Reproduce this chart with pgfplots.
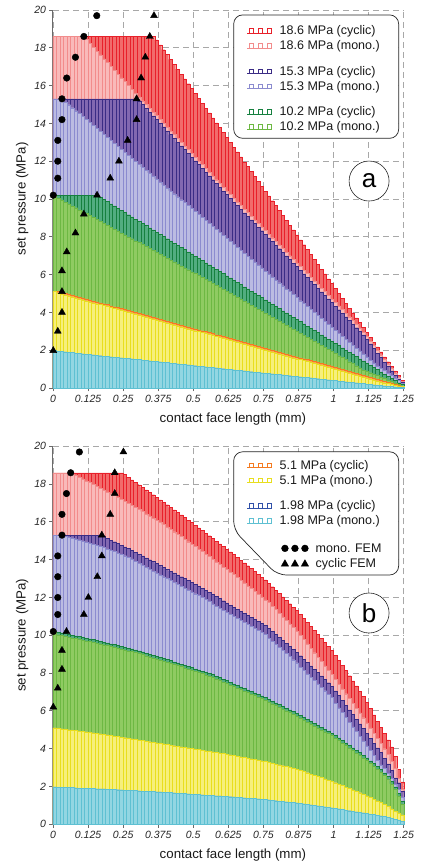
\documentclass[border=0pt]{standalone}
\usepackage{pgfplots}
\pgfplotsset{compat=1.18}
\usepackage{pgfplotstable}
\usepackage{fontspec}
\setmainfont{Liberation Sans}

\definecolor{redc}{HTML}{E8202A}\definecolor{redf}{HTML}{F26B6B}
\definecolor{pinkc}{HTML}{F28C8C}\definecolor{pinkf}{HTML}{F9BABA}
\definecolor{purc}{HTML}{3B2C85}\definecolor{purf}{HTML}{8268B1}
\definecolor{lavc}{HTML}{8B8BCF}\definecolor{lavf}{HTML}{BBBBE2}
\definecolor{grnc}{HTML}{16803F}\definecolor{grnf}{HTML}{52AD80}
\definecolor{lgrc}{HTML}{6DB843}\definecolor{lgrf}{HTML}{8FCB62}
\definecolor{orac}{HTML}{F47A20}\definecolor{oraf}{HTML}{F9A550}
\definecolor{yelc}{HTML}{E8DE1E}\definecolor{yelf}{HTML}{F6EF7C}
\definecolor{bluc}{HTML}{3050A8}\definecolor{bluf}{HTML}{6A86C8}
\definecolor{cyac}{HTML}{5EC0D2}\definecolor{cyaf}{HTML}{92D6E2}
\definecolor{axgray}{HTML}{6A6A6A}
\definecolor{gridgray}{HTML}{A8A8A8}

% ---- panel (a): set pressure per bar, 100 bars of 0.0125 mm ----
\pgfplotstableread[row sep=\\,header=false]{
18.60\\18.60\\18.60\\18.60\\18.60\\18.60\\18.60\\18.60\\18.60\\18.60\\
18.60\\18.60\\18.60\\18.60\\18.60\\18.60\\18.60\\18.60\\18.60\\18.60\\
18.60\\18.60\\18.60\\18.60\\18.60\\18.60\\18.60\\18.60\\18.60\\
18.42\\18.16\\17.90\\17.65\\17.39\\17.13\\16.87\\16.61\\16.36\\16.10\\
15.84\\15.58\\15.32\\15.07\\14.81\\14.55\\14.29\\14.03\\13.78\\13.52\\
13.26\\13.00\\12.74\\12.49\\12.23\\11.97\\11.71\\11.45\\11.20\\10.94\\
10.68\\10.42\\10.16\\9.91\\9.65\\9.39\\9.13\\8.87\\8.62\\8.36\\
8.10\\7.84\\7.58\\7.33\\7.07\\6.81\\6.55\\6.29\\6.04\\5.78\\
5.52\\5.26\\5.00\\4.75\\4.49\\4.23\\3.97\\3.71\\3.46\\3.20\\
2.94\\2.68\\2.42\\2.17\\1.91\\1.65\\1.39\\1.14\\0.90\\0.66\\
0.42\\
}\aRc
\pgfplotstableread[row sep=\\,header=false]{
18.60\\18.60\\18.60\\18.60\\18.60\\18.60\\18.60\\18.60\\18.60\\
18.43\\18.23\\18.03\\17.82\\17.62\\17.42\\17.22\\17.02\\16.81\\16.61\\
16.41\\16.21\\16.01\\15.80\\15.60\\
15.40\\15.20\\15.00\\14.80\\14.60\\14.41\\14.21\\14.01\\13.81\\13.61\\
13.41\\13.21\\13.01\\12.81\\12.61\\12.42\\12.22\\12.02\\11.82\\11.62\\
11.42\\11.22\\11.02\\10.82\\10.62\\10.43\\10.23\\
10.04\\9.85\\9.66\\9.47\\9.28\\9.09\\8.90\\8.71\\8.52\\8.33\\
8.14\\7.95\\7.76\\7.57\\7.38\\7.19\\7.00\\6.81\\6.62\\6.43\\
6.24\\6.05\\5.86\\5.67\\5.48\\5.29\\5.10\\4.91\\4.72\\4.53\\
4.34\\4.15\\3.96\\3.77\\3.58\\3.39\\3.18\\
2.96\\2.72\\2.48\\2.24\\2.00\\1.76\\1.52\\1.28\\1.04\\0.80\\0.58\\0.36\\
}\aRm
\pgfplotstableread[row sep=\\,header=false]{
15.30\\15.30\\15.30\\15.30\\15.30\\15.30\\15.30\\15.30\\15.30\\15.30\\
15.30\\15.30\\15.30\\15.30\\15.30\\15.30\\15.30\\15.30\\15.30\\15.30\\
15.30\\15.30\\15.30\\15.30\\
15.20\\15.00\\14.80\\14.60\\14.40\\14.21\\14.01\\13.81\\13.61\\13.41\\
13.21\\13.01\\12.81\\12.61\\12.41\\12.22\\12.02\\11.82\\11.62\\11.42\\
11.22\\11.02\\10.82\\10.62\\10.42\\10.23\\10.03\\
9.84\\9.65\\9.46\\9.27\\9.08\\8.89\\8.70\\8.51\\8.32\\8.13\\
7.94\\7.75\\7.56\\7.37\\7.18\\6.99\\6.80\\6.61\\6.42\\6.23\\
6.04\\5.85\\5.66\\5.47\\5.28\\5.09\\4.90\\4.71\\4.52\\4.33\\
4.14\\3.95\\3.76\\3.57\\3.38\\3.19\\3.00\\2.81\\
2.57\\2.33\\2.09\\1.85\\1.61\\1.37\\1.13\\0.90\\0.68\\0.48\\0.30\\
}\aPc
\pgfplotstableread[row sep=\\,header=false]{
15.30\\15.30\\15.30\\
15.14\\14.99\\14.83\\14.67\\14.52\\14.36\\14.20\\14.04\\13.89\\13.73\\
13.57\\13.42\\13.26\\13.10\\12.95\\12.79\\12.63\\12.47\\12.32\\12.16\\
12.00\\11.85\\11.69\\11.53\\11.38\\11.22\\11.06\\10.90\\10.75\\10.59\\
10.43\\10.28\\10.12\\9.96\\9.81\\9.65\\9.49\\9.33\\9.18\\9.02\\
8.86\\8.71\\8.55\\8.39\\8.24\\8.08\\7.92\\7.76\\7.61\\7.45\\
7.29\\7.14\\6.98\\6.82\\6.67\\6.51\\6.35\\6.19\\6.04\\5.88\\
5.72\\5.57\\5.41\\5.25\\5.10\\4.94\\4.78\\4.62\\4.47\\4.31\\
4.15\\4.00\\3.84\\3.68\\3.53\\3.37\\3.21\\3.05\\2.90\\2.74\\
2.58\\2.43\\2.27\\2.11\\1.96\\1.80\\1.64\\1.48\\1.33\\1.17\\
1.05\\0.92\\0.79\\0.66\\0.53\\0.40\\0.24\\
}\aPm
\pgfplotstableread[row sep=\\,header=false]{
10.20\\10.20\\10.20\\10.20\\10.20\\10.20\\10.20\\10.20\\10.20\\10.20\\
10.20\\10.20\\10.20\\
10.09\\9.97\\9.86\\9.74\\9.63\\9.51\\9.40\\9.28\\9.17\\9.05\\
8.94\\8.82\\8.70\\8.59\\8.47\\8.36\\8.24\\8.13\\8.01\\7.90\\
7.78\\7.66\\7.55\\7.43\\7.32\\7.20\\7.09\\6.97\\6.86\\6.74\\
6.62\\6.51\\6.39\\6.28\\6.16\\6.05\\5.93\\5.82\\5.70\\5.59\\
5.47\\5.35\\5.24\\5.12\\5.01\\4.89\\4.78\\4.66\\4.55\\4.43\\
4.31\\4.20\\4.08\\3.97\\3.85\\3.74\\3.62\\3.51\\3.39\\3.28\\
3.16\\3.04\\2.93\\2.81\\2.70\\2.58\\2.47\\2.35\\2.24\\2.12\\
2.00\\1.89\\1.77\\1.66\\1.54\\1.43\\1.31\\1.20\\1.08\\0.97\\
0.85\\0.73\\0.62\\0.50\\0.39\\0.28\\0.18\\
}\aGc
\pgfplotstableread[row sep=\\,header=false]{
10.20\\10.05\\9.95\\9.84\\9.74\\9.64\\9.54\\9.43\\9.33\\9.23\\
9.13\\9.02\\8.92\\8.82\\8.72\\8.61\\8.51\\8.41\\8.31\\8.20\\
8.10\\8.00\\7.90\\7.79\\7.69\\7.59\\7.49\\7.38\\7.28\\7.18\\
7.08\\6.97\\6.87\\6.77\\6.67\\6.56\\6.46\\6.36\\6.26\\6.15\\
6.05\\5.95\\5.85\\5.74\\5.64\\5.54\\5.44\\5.33\\5.23\\5.13\\
5.03\\4.92\\4.82\\4.71\\4.60\\4.50\\4.39\\4.28\\4.17\\4.07\\
3.96\\3.85\\3.75\\3.64\\3.53\\3.43\\3.32\\3.21\\3.10\\3.00\\
2.89\\2.78\\2.68\\2.57\\2.46\\2.36\\2.25\\2.14\\2.04\\1.93\\
1.82\\1.71\\1.61\\1.50\\1.39\\1.29\\1.18\\1.07\\0.96\\0.88\\
0.81\\0.73\\0.66\\0.58\\0.50\\0.43\\0.35\\0.27\\0.20\\0.12\\
}\aGm
\pgfplotstableread[row sep=\\,header=false]{
5.10\\5.10\\5.07\\5.02\\4.97\\4.92\\4.86\\4.81\\4.76\\4.71\\
4.66\\4.61\\4.56\\4.51\\4.46\\4.41\\4.35\\4.30\\4.25\\4.20\\
4.15\\4.10\\4.05\\4.00\\3.95\\3.90\\3.84\\3.79\\3.74\\3.69\\
3.64\\3.59\\3.54\\3.49\\3.44\\3.39\\3.33\\3.28\\3.23\\3.18\\
3.13\\3.08\\3.03\\2.98\\2.93\\2.88\\2.82\\2.77\\2.72\\2.67\\
2.62\\2.57\\2.52\\2.47\\2.42\\2.37\\2.31\\2.26\\2.21\\2.16\\
2.11\\2.06\\2.01\\1.96\\1.91\\1.86\\1.80\\1.75\\1.70\\1.65\\
1.60\\1.55\\1.50\\1.45\\1.40\\1.35\\1.29\\1.24\\1.19\\1.14\\
1.09\\1.04\\0.99\\0.94\\0.89\\0.84\\0.77\\0.72\\0.66\\0.61\\
0.56\\0.50\\0.45\\0.40\\0.34\\0.29\\0.23\\0.19\\0.14\\0.10\\
}\aOc
\pgfplotstableread[row sep=\\,header=false]{
5.10\\5.02\\4.97\\4.92\\4.87\\4.82\\4.76\\4.71\\4.66\\4.61\\
4.56\\4.51\\4.46\\4.41\\4.36\\4.31\\4.25\\4.20\\4.15\\4.10\\
4.05\\4.00\\3.95\\3.90\\3.85\\3.80\\3.74\\3.69\\3.64\\3.59\\
3.54\\3.49\\3.44\\3.39\\3.34\\3.29\\3.23\\3.18\\3.13\\3.08\\
3.03\\2.98\\2.93\\2.88\\2.83\\2.78\\2.72\\2.67\\2.62\\2.57\\
2.52\\2.47\\2.42\\2.37\\2.32\\2.27\\2.21\\2.16\\2.11\\2.06\\
2.01\\1.96\\1.91\\1.86\\1.81\\1.76\\1.70\\1.65\\1.60\\1.55\\
1.50\\1.45\\1.40\\1.35\\1.30\\1.25\\1.19\\1.14\\1.09\\1.04\\
0.99\\0.94\\0.89\\0.84\\0.79\\0.74\\0.68\\0.63\\0.58\\0.53\\
0.48\\0.43\\0.38\\0.33\\0.28\\0.23\\0.18\\0.14\\0.10\\0.07\\
}\aYm
\pgfplotstableread[row sep=\\,header=false]{
1.98\\1.95\\1.93\\1.91\\1.89\\1.87\\1.85\\1.83\\1.81\\1.79\\
1.77\\1.75\\1.73\\1.71\\1.69\\1.67\\1.65\\1.63\\1.61\\1.59\\
1.58\\1.56\\1.54\\1.52\\1.50\\1.48\\1.46\\1.44\\1.42\\1.40\\
1.38\\1.36\\1.34\\1.32\\1.30\\1.28\\1.26\\1.24\\1.22\\1.20\\
1.18\\1.16\\1.14\\1.12\\1.10\\1.08\\1.06\\1.04\\1.02\\1.00\\
0.98\\0.96\\0.94\\0.92\\0.90\\0.88\\0.86\\0.84\\0.82\\0.80\\
0.78\\0.77\\0.75\\0.73\\0.71\\0.69\\0.67\\0.65\\0.63\\0.61\\
0.59\\0.57\\0.55\\0.53\\0.51\\0.49\\0.47\\0.45\\0.43\\0.41\\
0.39\\0.37\\0.35\\0.33\\0.31\\0.29\\0.27\\0.25\\0.23\\0.21\\
0.19\\0.17\\0.15\\0.13\\0.11\\0.09\\0.07\\0.06\\0.05\\0.04\\
}\aCm

% ---- panel (b) ----
\pgfplotstableread[row sep=\\,header=false]{
18.60\\18.60\\18.60\\18.60\\18.60\\18.60\\18.60\\18.60\\18.60\\18.60\\
18.60\\18.60\\18.60\\18.60\\18.60\\18.60\\18.60\\18.60\\18.60\\18.60\\
18.50\\18.35\\18.22\\18.09\\17.96\\17.83\\17.70\\17.57\\17.44\\17.31\\
17.17\\17.04\\16.91\\16.77\\16.64\\16.50\\16.37\\16.23\\16.09\\15.96\\
15.82\\15.69\\15.55\\15.41\\15.27\\15.12\\14.98\\14.84\\14.70\\14.56\\
14.42\\14.28\\14.13\\13.98\\13.83\\13.68\\13.53\\13.38\\13.23\\13.08\\
12.93\\12.75\\12.57\\12.39\\12.21\\12.03\\11.85\\11.67\\11.49\\11.31\\
11.10\\10.89\\10.68\\10.47\\10.26\\10.05\\9.84\\9.63\\9.42\\9.21\\
8.94\\8.67\\8.40\\8.13\\7.86\\7.59\\7.32\\7.05\\6.78\\6.45\\
6.12\\5.79\\5.46\\5.13\\4.80\\4.47\\4.10\\3.60\\2.90\\2.25\\
}\bRc
\pgfplotstableread[row sep=\\,header=false]{
18.60\\18.60\\18.60\\18.60\\18.60\\18.55\\18.46\\18.36\\18.27\\18.17\\
18.08\\17.98\\17.89\\17.79\\17.69\\17.59\\17.49\\17.39\\17.29\\17.19\\
17.09\\16.99\\16.89\\16.78\\16.66\\16.55\\16.43\\16.32\\16.20\\16.09\\
15.97\\15.86\\15.74\\15.61\\15.48\\15.35\\15.22\\15.09\\14.95\\14.82\\
14.69\\14.56\\14.43\\14.29\\14.16\\14.02\\13.89\\13.75\\13.61\\13.48\\
13.34\\13.21\\13.06\\12.91\\12.77\\12.62\\12.47\\12.32\\12.18\\12.03\\
11.88\\11.73\\11.54\\11.36\\11.17\\10.98\\10.79\\10.61\\10.42\\10.23\\
10.00\\9.77\\9.54\\9.31\\9.08\\8.85\\8.61\\8.38\\8.15\\7.92\\
7.67\\7.41\\7.16\\6.91\\6.65\\6.40\\6.15\\5.89\\5.64\\5.37\\
5.10\\4.83\\4.56\\4.29\\4.00\\3.70\\3.35\\2.95\\2.45\\1.85\\
}\bRm
\pgfplotstableread[row sep=\\,header=false]{
15.30\\15.30\\15.30\\15.30\\15.30\\15.30\\15.30\\15.30\\15.30\\15.30\\
15.30\\15.30\\15.30\\15.30\\15.22\\15.13\\15.04\\14.95\\14.86\\14.77\\
14.68\\14.59\\14.50\\14.40\\14.30\\14.20\\14.10\\14.00\\13.90\\13.80\\
13.70\\13.60\\13.50\\13.40\\13.30\\13.20\\13.10\\13.00\\12.90\\12.80\\
12.70\\12.60\\12.50\\12.39\\12.28\\12.16\\12.05\\11.94\\11.83\\11.71\\
11.60\\11.49\\11.38\\11.28\\11.17\\11.07\\10.96\\10.86\\10.75\\10.65\\
10.54\\10.38\\10.22\\10.06\\9.90\\9.74\\9.58\\9.42\\9.26\\9.10\\
8.92\\8.74\\8.56\\8.38\\8.20\\8.03\\7.85\\7.67\\7.49\\7.31\\
7.06\\6.81\\6.56\\6.31\\6.06\\5.81\\5.56\\5.31\\5.06\\4.80\\
4.55\\4.30\\4.05\\3.80\\3.50\\3.20\\2.85\\2.45\\2.20\\1.75\\
}\bPc
\pgfplotstableread[row sep=\\,header=false]{
15.30\\15.30\\15.30\\15.25\\15.20\\15.15\\15.10\\15.05\\15.00\\14.94\\
14.88\\14.82\\14.76\\14.70\\14.64\\14.57\\14.50\\14.43\\14.36\\14.29\\
14.21\\14.13\\14.05\\13.90\\13.80\\13.70\\13.60\\13.50\\13.40\\13.30\\
13.20\\13.10\\13.00\\12.90\\12.80\\12.70\\12.60\\12.50\\12.40\\12.30\\
12.20\\12.10\\12.00\\11.89\\11.78\\11.66\\11.55\\11.44\\11.33\\11.21\\
11.10\\10.99\\10.88\\10.78\\10.67\\10.57\\10.46\\10.36\\10.25\\10.15\\
10.04\\9.83\\9.67\\9.51\\9.35\\9.19\\9.03\\8.87\\8.71\\8.55\\
8.32\\8.14\\7.96\\7.78\\7.60\\7.43\\7.25\\7.07\\6.89\\6.71\\
6.41\\6.16\\5.91\\5.66\\5.41\\5.16\\4.91\\4.66\\4.41\\4.15\\
3.90\\3.65\\3.40\\3.15\\2.95\\2.70\\2.42\\2.12\\1.85\\1.45\\
}\bPm
\pgfplotstableread[row sep=\\,header=false]{
10.20\\10.17\\10.13\\10.09\\10.05\\10.01\\9.97\\9.93\\9.89\\9.85\\
9.81\\9.77\\9.73\\9.69\\9.64\\9.60\\9.55\\9.51\\9.46\\9.41\\
9.37\\9.32\\9.28\\9.23\\9.17\\9.12\\9.06\\9.00\\8.95\\8.89\\
8.84\\8.78\\8.72\\8.66\\8.60\\8.54\\8.48\\8.42\\8.35\\8.29\\
8.23\\8.17\\8.11\\8.04\\7.98\\7.92\\7.84\\7.76\\7.68\\7.60\\
7.51\\7.43\\7.35\\7.27\\7.19\\7.11\\7.03\\6.95\\6.87\\6.79\\
6.71\\6.62\\6.52\\6.43\\6.33\\6.24\\6.15\\6.05\\5.96\\5.86\\
5.76\\5.66\\5.55\\5.45\\5.35\\5.24\\5.14\\5.04\\4.94\\4.83\\
4.70\\4.57\\4.44\\4.31\\4.18\\4.05\\3.92\\3.79\\3.66\\3.51\\
3.36\\3.21\\3.06\\2.91\\2.72\\2.52\\2.28\\1.98\\1.65\\1.20\\
}\bGc
\pgfplotstableread[row sep=\\,header=false]{
10.20\\10.03\\9.99\\9.95\\9.91\\9.87\\9.83\\9.79\\9.75\\9.71\\
9.67\\9.63\\9.59\\9.55\\9.50\\9.46\\9.41\\9.37\\9.32\\9.27\\
9.23\\9.18\\9.14\\9.09\\9.03\\8.98\\8.92\\8.86\\8.81\\8.75\\
8.70\\8.64\\8.58\\8.52\\8.46\\8.40\\8.34\\8.28\\8.21\\8.15\\
8.09\\8.03\\7.97\\7.90\\7.84\\7.78\\7.70\\7.62\\7.54\\7.46\\
7.37\\7.29\\7.21\\7.13\\7.05\\6.97\\6.89\\6.81\\6.73\\6.65\\
6.57\\6.48\\6.38\\6.29\\6.19\\6.10\\6.01\\5.91\\5.82\\5.72\\
5.62\\5.52\\5.41\\5.31\\5.21\\5.10\\5.00\\4.90\\4.80\\4.69\\
4.56\\4.43\\4.30\\4.17\\4.04\\3.91\\3.78\\3.65\\3.52\\3.37\\
3.22\\3.07\\2.92\\2.77\\2.58\\2.38\\2.14\\1.84\\1.51\\1.06\\
}\bGm
\pgfplotstableread[row sep=\\,header=false]{
5.10\\5.07\\5.05\\5.03\\5.00\\4.98\\4.96\\4.93\\4.91\\4.89\\
4.86\\4.84\\4.81\\4.79\\4.76\\4.73\\4.70\\4.67\\4.64\\4.61\\
4.58\\4.55\\4.52\\4.49\\4.46\\4.43\\4.40\\4.37\\4.34\\4.31\\
4.28\\4.25\\4.22\\4.19\\4.16\\4.13\\4.10\\4.07\\4.04\\4.01\\
3.98\\3.95\\3.92\\3.89\\3.86\\3.83\\3.80\\3.77\\3.74\\3.71\\
3.67\\3.64\\3.60\\3.57\\3.53\\3.50\\3.46\\3.43\\3.39\\3.36\\
3.32\\3.28\\3.23\\3.19\\3.14\\3.10\\3.05\\3.01\\2.96\\2.92\\
2.86\\2.79\\2.73\\2.66\\2.60\\2.53\\2.47\\2.40\\2.34\\2.27\\
2.20\\2.12\\2.05\\1.97\\1.90\\1.82\\1.75\\1.67\\1.60\\1.51\\
1.42\\1.33\\1.24\\1.15\\1.05\\0.94\\0.82\\0.70\\0.60\\0.50\\
}\bYm
\pgfplotstableread[row sep=\\,header=false]{
1.98\\1.97\\1.96\\1.96\\1.95\\1.94\\1.93\\1.92\\1.92\\1.91\\
1.90\\1.89\\1.88\\1.88\\1.87\\1.86\\1.85\\1.84\\1.83\\1.82\\
1.81\\1.80\\1.79\\1.78\\1.77\\1.76\\1.75\\1.74\\1.73\\1.72\\
1.71\\1.70\\1.69\\1.68\\1.66\\1.65\\1.64\\1.63\\1.61\\1.60\\
1.59\\1.58\\1.56\\1.55\\1.54\\1.53\\1.51\\1.50\\1.49\\1.48\\
1.46\\1.45\\1.43\\1.42\\1.40\\1.39\\1.37\\1.36\\1.34\\1.33\\
1.31\\1.29\\1.27\\1.25\\1.23\\1.21\\1.19\\1.17\\1.15\\1.13\\
1.10\\1.08\\1.05\\1.03\\1.00\\0.97\\0.95\\0.92\\0.90\\0.87\\
0.84\\0.81\\0.78\\0.75\\0.72\\0.69\\0.66\\0.63\\0.60\\0.57\\
0.54\\0.51\\0.48\\0.45\\0.41\\0.37\\0.32\\0.27\\0.22\\0.17\\
}\bCm

\pgfplotsset{
  panel/.style={
    scale only axis, width=350.7pt, height=378pt,
    xmin=0, xmax=1.25, ymin=0, ymax=20,
    axis x line*=bottom, axis y line*=left,
    axis line style={-, draw=axgray, line width=1pt},
    xtick={0,0.125,0.25,0.375,0.5,0.625,0.75,0.875,1,1.125,1.25},
    xticklabels={0,0.125,0.25,0.375,0.5,0.625,0.75,0.875,1,1.125,1.25},
    ytick={0,2,4,6,8,10,12,14,16,18,20},
    yticklabels={0,2,4,6,8,10,12,14,16,18,20},
    xticklabel style={font=\fontsize{10.5}{12}\selectfont\itshape, text=black!85},
    yticklabel style={font=\fontsize{10.5}{12}\selectfont\itshape, text=black!85},
    tick style={draw=axgray, line width=0.9pt},
    tick align=outside, major tick length=3.5pt,
    grid=major,
    major grid style={draw=gridgray, line width=0.9pt, dash pattern=on 6pt off 4pt},
    xlabel={contact face length (mm)},
    ylabel={set pressure (MPa)},
    every axis y label/.style={at={(axis description cs:-0.088,0.5)}, rotate=90, anchor=center,
      font=\fontsize{13.3}{15}\selectfont, text=black!90},
    every axis x label/.style={at={(axis description cs:0.513,-0.082)}, anchor=center,
      font=\fontsize{13.3}{15}\selectfont, text=black!90},
    clip=false,
    legend cell align=left,
    legend style={draw=none, fill=none, inner sep=0pt, column sep=6pt, row sep=2.5pt,
      font=\fontsize{12.5}{14}\selectfont, text=black!90, nodes={inner sep=1pt}},
  },
  vbar/.style={ybar, bar width=0.0125, bar shift=0pt, line width=0.35pt, forget plot},
  barleg/.style={legend image code/.code={%
    \draw[#1, line width=0.6pt] (0pt,-2pt) -- (25pt,-2pt);
    \foreach \k in {2,11,20}{\draw[#1, line width=0.6pt] (\k pt,-2pt) rectangle ++(4.2pt,4.5pt);}}},
  circleg/.style={legend image code/.code={%
    \foreach \k in {37.5,47.5,57.5}{\fill[black, overlay] (\k pt,0pt) circle[radius=3.4pt];}}},
  trileg/.style={legend image code/.code={%
    \foreach \k in {37.5,47.5,57.5}{\fill[black, overlay, shift={(\k pt,0pt)}] (-3.7pt,-2.8pt) -- (3.7pt,-2.8pt) -- (0pt,3.7pt) -- cycle;}}},
  gapleg/.style={legend image code/.code={}},
}
\newcommand{\lh}{\vphantom{()}}

\begin{document}
\begin{tikzpicture}
\path[use as bounding box] (0,0) rectangle (424pt,865pt);

% ================= panel (a) =================
\begin{axis}[panel, at={(53pt,477pt)}, anchor=south west,
  legend style={at={(0.553,0.962)}, anchor=north west}]
\addplot[vbar, draw=redc, fill=redf] table[x expr=\coordindex*0.0125+0.00625, y index=0] {\aRc};
\addplot[vbar, draw=pinkc, fill=pinkf] table[x expr=\coordindex*0.0125+0.00625, y index=0] {\aRm};
\addplot[vbar, draw=purc, fill=purf] table[x expr=\coordindex*0.0125+0.00625, y index=0] {\aPc};
\addplot[vbar, draw=lavc, fill=lavf] table[x expr=\coordindex*0.0125+0.00625, y index=0] {\aPm};
\addplot[vbar, draw=grnc, fill=grnf] table[x expr=\coordindex*0.0125+0.00625, y index=0] {\aGc};
\addplot[vbar, draw=lgrc, fill=lgrf] table[x expr=\coordindex*0.0125+0.00625, y index=0] {\aGm};
\addplot[vbar, draw=orac, fill=oraf] table[x expr=\coordindex*0.0125+0.00625, y index=0] {\aOc};
\addplot[vbar, draw=yelc, fill=yelf] table[x expr=\coordindex*0.0125+0.00625, y index=0] {\aYm};
\addplot[vbar, draw=bluc, fill=bluf] table[x expr=\coordindex*0.0125+0.00625, y index=0] {\aCm};
\addplot[vbar, draw=cyac, fill=cyaf] table[x expr=\coordindex*0.0125+0.00625, y index=0] {\aCm};
% FEM results
\addplot[only marks, mark=*, mark size=3.3pt, black, forget plot] coordinates {
 (0.156,19.7) (0.110,18.6) (0.080,17.5) (0.049,16.4) (0.032,15.3)
 (0.032,14.2) (0.017,13.1) (0.017,12.0) (0.017,11.1) (0.001,10.2)};
\addplot[only marks, mark=triangle*, mark size=4pt, black, forget plot] coordinates {
 (0.360,19.7) (0.345,18.6) (0.329,17.5) (0.314,16.4) (0.298,15.3) (0.298,14.2)
 (0.266,13.1) (0.235,12.0) (0.204,11.1) (0.157,10.2) (0.110,9.2) (0.080,8.2)
 (0.049,7.2) (0.032,6.2) (0.032,5.1) (0.032,4.0) (0.017,3.0) (0.001,1.98)};
\draw[draw=black!85, line width=0.7pt, fill=white, rounded corners=9pt]
  (axis cs:0.644,19.74) rectangle (axis cs:1.232,13.21);
\node[draw=black!85, fill=white, circle, minimum size=40pt, inner sep=0pt, line width=0.6pt,
  font=\fontsize{26}{26}\selectfont] at (axis cs:1.1266,10.95) {a};
\addlegendimage{barleg=redc}\addlegendentry{\lh 18.6 MPa (cyclic)}
\addlegendimage{barleg=pinkc}\addlegendentry{\lh 18.6 MPa (mono.)}
\addlegendimage{gapleg}\addlegendentry{\rule{0pt}{4.4pt}}
\addlegendimage{barleg=purc}\addlegendentry{\lh 15.3 MPa (cyclic)}
\addlegendimage{barleg=lavc}\addlegendentry{\lh 15.3 MPa (mono.)}
\addlegendimage{gapleg}\addlegendentry{\rule{0pt}{4.4pt}}
\addlegendimage{barleg=grnc}\addlegendentry{\lh 10.2 MPa (cyclic)}
\addlegendimage{barleg=lgrc}\addlegendentry{\lh 10.2 MPa (mono.)}
\end{axis}

% ================= panel (b) =================
\begin{axis}[panel, at={(53pt,40.7pt)}, anchor=south west,
  legend style={at={(0.553,0.966)}, anchor=north west}]
\addplot[vbar, draw=redc, fill=redf] table[x expr=\coordindex*0.0125+0.00625, y index=0] {\bRc};
\addplot[vbar, draw=pinkc, fill=pinkf] table[x expr=\coordindex*0.0125+0.00625, y index=0] {\bRm};
\addplot[vbar, draw=purc, fill=purf] table[x expr=\coordindex*0.0125+0.00625, y index=0] {\bPc};
\addplot[vbar, draw=lavc, fill=lavf] table[x expr=\coordindex*0.0125+0.00625, y index=0] {\bPm};
\addplot[vbar, draw=grnc, fill=grnf] table[x expr=\coordindex*0.0125+0.00625, y index=0] {\bGc};
\addplot[vbar, draw=lgrc, fill=lgrf] table[x expr=\coordindex*0.0125+0.00625, y index=0] {\bGm};
\addplot[vbar, draw=orac, fill=oraf] table[x expr=\coordindex*0.0125+0.00625, y index=0] {\bYm};
\addplot[vbar, draw=yelc, fill=yelf] table[x expr=\coordindex*0.0125+0.00625, y index=0] {\bYm};
\addplot[vbar, draw=bluc, fill=bluf] table[x expr=\coordindex*0.0125+0.00625, y index=0] {\bCm};
\addplot[vbar, draw=cyac, fill=cyaf] table[x expr=\coordindex*0.0125+0.00625, y index=0] {\bCm};
\addplot[only marks, mark=*, mark size=3.3pt, black, forget plot] coordinates {
 (0.094,19.7) (0.063,18.6) (0.048,17.5) (0.032,16.4) (0.032,15.3)
 (0.017,14.2) (0.017,13.1) (0.017,12.0) (0.017,11.1) (0.001,10.2)};
\addplot[only marks, mark=triangle*, mark size=4pt, black, forget plot] coordinates {
 (0.251,19.7) (0.220,18.6) (0.220,17.5) (0.204,16.4) (0.174,15.3) (0.174,14.2)
 (0.158,13.1) (0.126,12.0) (0.110,11.1) (0.048,10.2) (0.032,9.2) (0.032,8.2)
 (0.017,7.2) (0.001,6.2)};
\draw[draw=black!85, line width=0.7pt, fill=white, rounded corners=9pt]
  (axis cs:0.644,19.71) -- (axis cs:1.232,19.71) -- (axis cs:1.232,13.19)
  -- (axis cs:0.799,13.19) -- (axis cs:0.644,15.57) -- cycle;
\node[draw=black!85, fill=white, circle, minimum size=40pt, inner sep=0pt, line width=0.6pt,
  font=\fontsize{26}{26}\selectfont] at (axis cs:1.1266,11.18) {b};
\addlegendimage{barleg=orac}\addlegendentry{\lh 5.1 MPa (cyclic)}
\addlegendimage{barleg=yelc}\addlegendentry{\lh 5.1 MPa (mono.)}
\addlegendimage{gapleg}\addlegendentry{\rule{0pt}{4.4pt}}
\addlegendimage{barleg=bluc}\addlegendentry{\lh 1.98 MPa (cyclic)}
\addlegendimage{barleg=cyac}\addlegendentry{\lh 1.98 MPa (mono.)}
\addlegendimage{gapleg}\addlegendentry{\rule{0pt}{6.1pt}}
\addlegendimage{circleg}\addlegendentry{\hspace*{36pt}\lh mono. FEM}
\addlegendimage{trileg}\addlegendentry{\hspace*{36pt}\lh cyclic FEM}
\end{axis}
\end{tikzpicture}
\end{document}
